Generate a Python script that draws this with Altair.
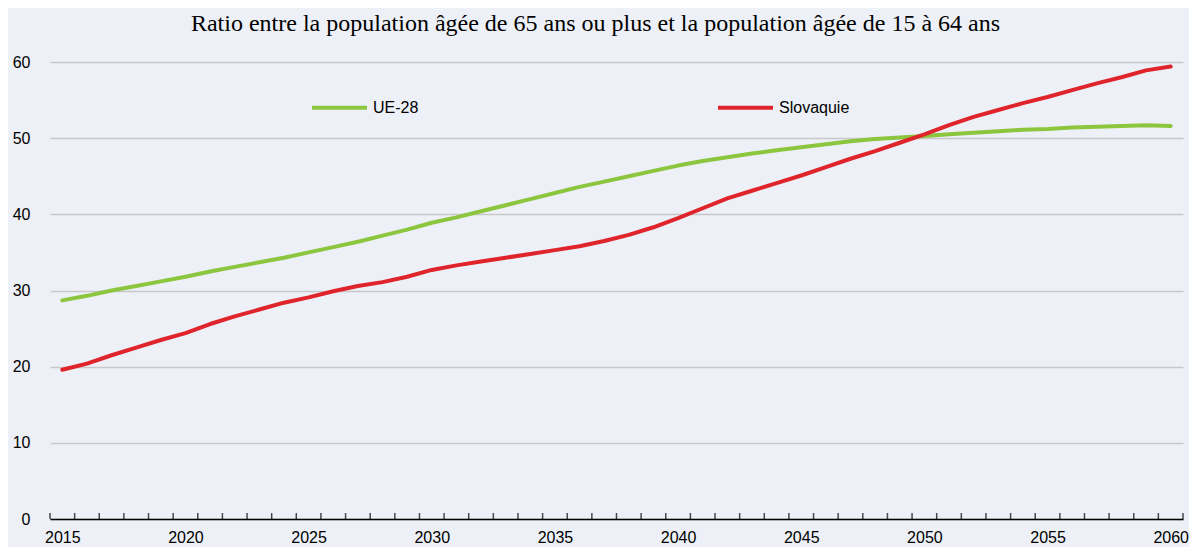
import altair as alt
import pandas as pd

years = list(range(2015, 2061))
ue28 = [28.7, 29.3, 30.0, 30.6, 31.2, 31.8, 32.5, 33.1, 33.7, 34.3,
        35.0, 35.7, 36.4, 37.2, 38.0, 38.9, 39.6, 40.4, 41.2, 42.0,
        42.8, 43.6, 44.3, 45.0, 45.7, 46.4, 47.0, 47.5, 48.0, 48.4,
        48.8, 49.2, 49.6, 49.9, 50.1, 50.3, 50.5, 50.7, 50.9, 51.1,
        51.2, 51.4, 51.5, 51.6, 51.7, 51.6]
slovaquie = [19.6, 20.4, 21.5, 22.5, 23.5, 24.4, 25.6, 26.6, 27.5, 28.4,
             29.1, 29.9, 30.6, 31.1, 31.8, 32.7, 33.3, 33.8, 34.3, 34.8,
             35.3, 35.8, 36.5, 37.3, 38.3, 39.5, 40.8, 42.1, 43.1, 44.1,
             45.1, 46.2, 47.3, 48.3, 49.4, 50.5, 51.7, 52.8, 53.7, 54.6,
             55.4, 56.3, 57.2, 58.0, 58.9, 59.4]
series_names = ["UE-28", "Slovaquie"]
series_colors = ["#8CC63E", "#E0242B"]
y_ticks = [0, 10, 20, 30, 40, 50, 60]
x_label_years = [2015, 2020, 2025, 2030, 2035, 2040, 2045, 2050, 2055, 2060]
tick_positions = [y - 0.5 for y in range(2015, 2062)]
title_text = "Ratio entre la population âgée de 65 ans ou plus et la population âgée de 15 à 64 ans"

df = pd.DataFrame({
    "year": years * 2,
    "value": ue28 + slovaquie,
    "series": ["UE-28"] * len(years) + ["Slovaquie"] * len(years),
})
ticks_df = pd.DataFrame({"pos": tick_positions})

SANS = "Liberation Sans, Arial, sans-serif"
xscale = alt.Scale(domain=[2014.5, 2060.5], nice=False, zero=False)
yscale = alt.Scale(domain=[0, 60], nice=False)

lines = alt.Chart(df).mark_line(strokeWidth=4, strokeCap="round", strokeJoin="round").encode(
    x=alt.X("year:Q", scale=xscale,
            axis=alt.Axis(values=x_label_years, format="d", ticks=False, grid=False,
                          domainColor="#000000", domainWidth=1.5, labelPadding=10,
                          labelFont=SANS, labelFontSize=16, labelColor="#000000",
                          title=None)),
    y=alt.Y("value:Q", scale=yscale,
            axis=alt.Axis(values=y_ticks, domain=False, ticks=False, grid=True,
                          gridColor="#C8C8C8", gridWidth=1.5, labelPadding=20,
                          labelFont=SANS, labelFontSize=16, labelColor="#000000",
                          title=None)),
    color=alt.Color("series:N", scale=alt.Scale(domain=series_names, range=series_colors),
                    legend=alt.Legend(title=None, orient="none", legendX=260, legendY=16,
                                      direction="horizontal", symbolType="stroke",
                                      symbolSize=3025, symbolStrokeWidth=4,
                                      labelFont=SANS, labelFontSize=16, labelColor="#000000",
                                      labelOffset=4, columnPadding=291)),
)

ticks = alt.Chart(ticks_df).mark_tick(orient="vertical", size=6, thickness=1.5,
                                      color="#000000", yOffset=-3).encode(
    x=alt.X("pos:Q", scale=xscale),
    y=alt.datum(0, scale=yscale),
)

chart = alt.layer(lines, ticks).properties(
    width=1133, height=457,
    padding={"left": 42, "top": 54, "right": 6, "bottom": 28},
    autosize=alt.AutoSizeParams(type="none"),
    background="#EDF0F7",
    title=alt.TitleParams(title_text, font="Liberation Serif", fontSize=24,
                          fontWeight="normal", color="#000000", anchor="middle",
                          baseline="alphabetic", offset=-1, dx=-21),
).configure_view(stroke=None)

chart.save("out.html", embed_options={"renderer": "svg", "actions": False})
